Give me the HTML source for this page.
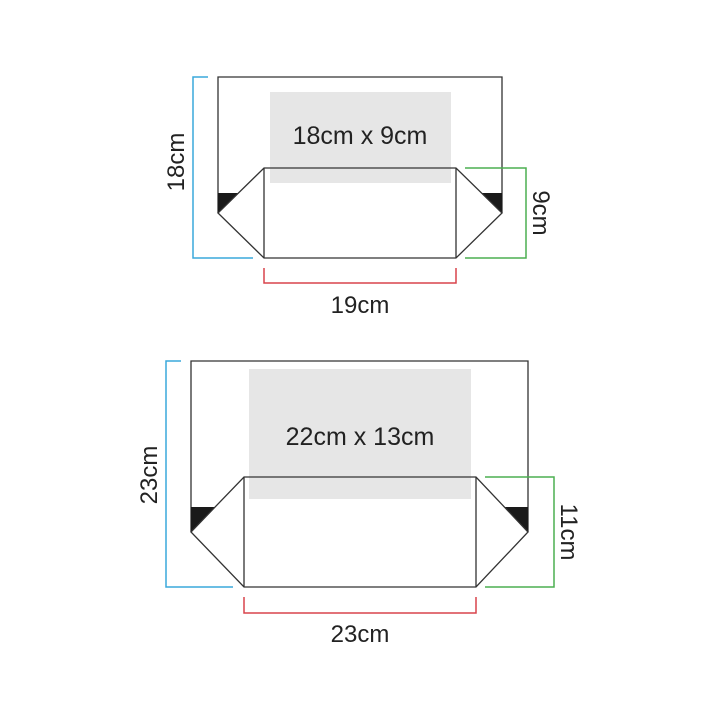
<!DOCTYPE html>
<html><head><style>body{margin:0;background:#fff}svg{display:block}</style></head><body>
<svg width="720" height="720" viewBox="0 0 720 720" xmlns="http://www.w3.org/2000/svg" font-family="Liberation Sans, sans-serif" fill="none">
<!-- top -->
<rect x="270" y="92" width="181" height="91" fill="#e6e6e6"/>
<polyline points="218,213 218,77 502,77 502,213" stroke="#333" stroke-width="1.3"/>
<polygon points="218,193 238,193 218,213" fill="#1a1a1a"/>
<polygon points="502,193 482,193 502,213" fill="#1a1a1a"/>
<polygon points="264,168 456,168 502,213 456,258 264,258 218,213" stroke="#333" stroke-width="1.3"/>
<line x1="264" y1="168" x2="264" y2="258" stroke="#333" stroke-width="1.3"/>
<line x1="456" y1="168" x2="456" y2="258" stroke="#333" stroke-width="1.3"/>
<polyline points="208,77 193,77 193,258 253,258" stroke="#3aa9dc" stroke-width="1.5"/>
<polyline points="465,168 526,168 526,258 465,258" stroke="#4caf50" stroke-width="1.5"/>
<polyline points="264,268 264,283 456,283 456,268" stroke="#d9434b" stroke-width="1.5"/>
<text x="360" y="144" font-size="25" fill="#222" text-anchor="middle">18cm x 9cm</text>
<text x="360" y="313" font-size="24" fill="#222" text-anchor="middle">19cm</text>
<text transform="translate(184,162) rotate(-90)" font-size="24" fill="#222" text-anchor="middle">18cm</text>
<text transform="translate(533,213) rotate(90)" font-size="24" fill="#222" text-anchor="middle">9cm</text>
<!-- bottom -->
<rect x="249" y="369" width="222" height="130" fill="#e6e6e6"/>
<polyline points="191,532 191,361 528,361 528,532" stroke="#333" stroke-width="1.3"/>
<polygon points="191,507 215,507 191,532" fill="#1a1a1a"/>
<polygon points="528,507 504,507 528,532" fill="#1a1a1a"/>
<polygon points="244,477 476,477 528,532 476,587 244,587 191,532" stroke="#333" stroke-width="1.3"/>
<line x1="244" y1="477" x2="244" y2="587" stroke="#333" stroke-width="1.3"/>
<line x1="476" y1="477" x2="476" y2="587" stroke="#333" stroke-width="1.3"/>
<polyline points="181,361 166,361 166,587 233,587" stroke="#3aa9dc" stroke-width="1.5"/>
<polyline points="485,477 554,477 554,587 485,587" stroke="#4caf50" stroke-width="1.5"/>
<polyline points="244,597 244,613 476,613 476,597" stroke="#d9434b" stroke-width="1.5"/>
<text x="360" y="445" font-size="25" fill="#222" text-anchor="middle">22cm x 13cm</text>
<text x="360" y="642" font-size="24" fill="#222" text-anchor="middle">23cm</text>
<text transform="translate(157,475) rotate(-90)" font-size="24" fill="#222" text-anchor="middle">23cm</text>
<text transform="translate(561,532) rotate(90)" font-size="24" fill="#222" text-anchor="middle">11cm</text>
</svg>
</body></html>
